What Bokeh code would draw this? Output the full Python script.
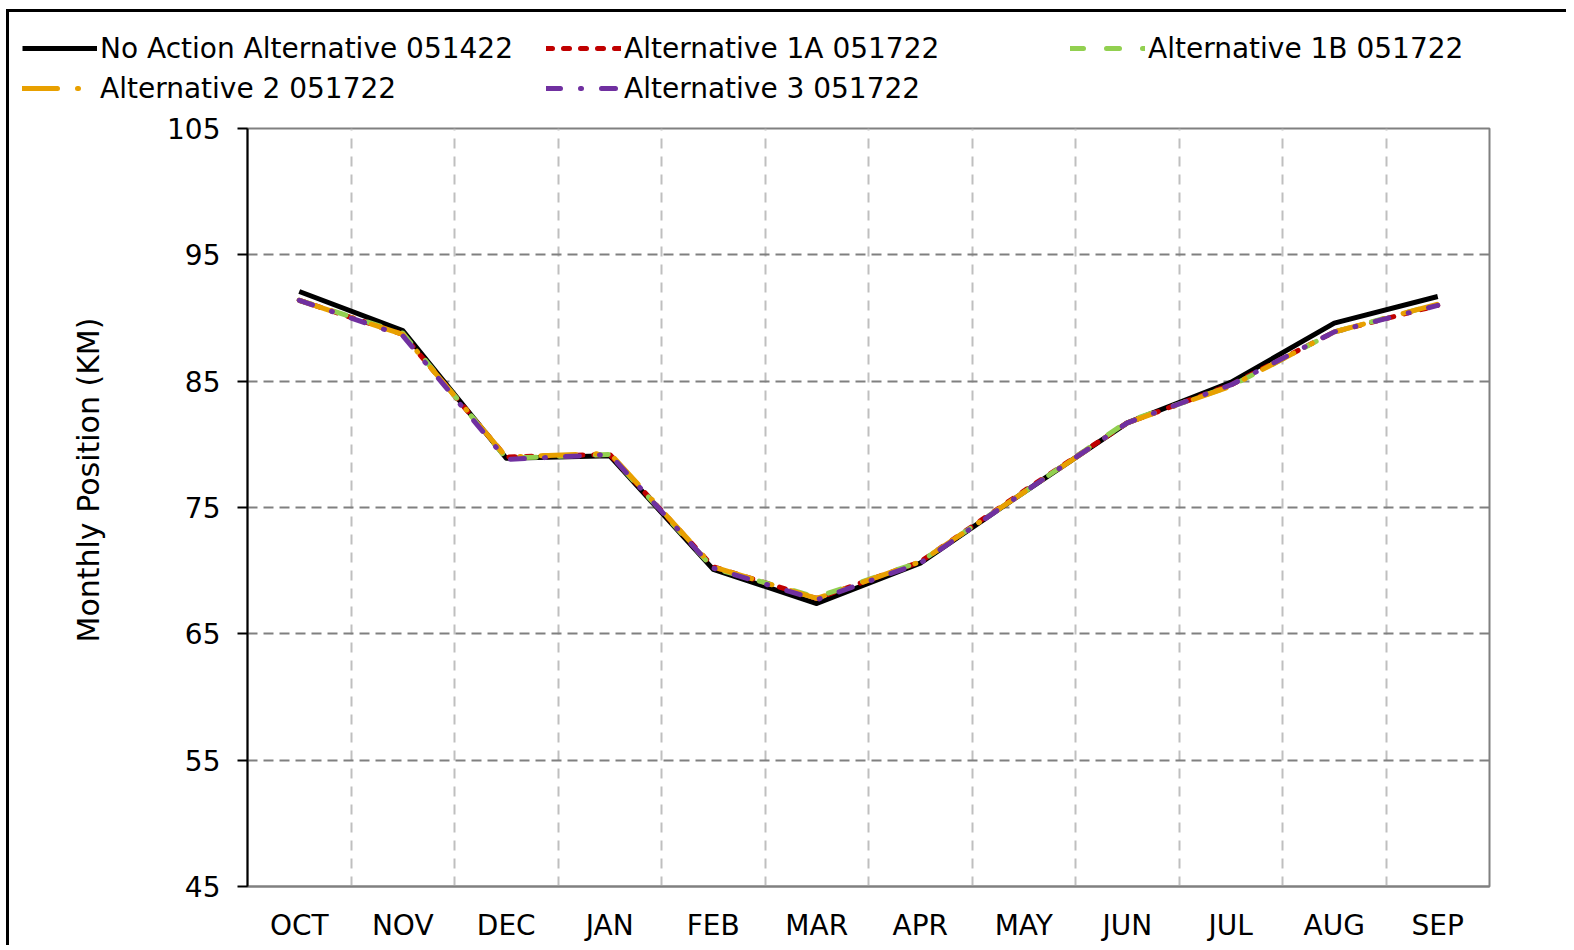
from bokeh.plotting import figure
from bokeh.models import FixedTicker, Legend, LegendItem, ColumnDataSource, Title
from bokeh.embed import file_html
from bokeh.resources import INLINE

months = ["OCT", "NOV", "DEC", "JAN", "FEB", "MAR", "APR", "MAY", "JUN", "JUL", "AUG", "SEP"]
no_action = [92.1, 89.0, 78.9, 79.1, 70.1, 67.4, 70.6, 76.2, 81.7, 84.9, 89.6, 91.7]
alt_1a = [91.4, 88.7, 79.0, 79.2, 70.3, 67.8, 70.7, 76.3, 81.7, 84.7, 88.9, 91.0]
alt_1b = [91.4, 88.8, 78.9, 79.2, 70.2, 67.9, 70.7, 76.2, 81.8, 84.6, 88.9, 91.1]
alt_2 = [91.4, 88.7, 79.0, 79.3, 70.3, 67.8, 70.7, 76.2, 81.7, 84.6, 88.9, 91.1]
alt_3 = [91.4, 88.6, 78.8, 79.2, 70.2, 67.7, 70.6, 76.2, 81.7, 84.7, 88.9, 91.0]
y_ticks = [45, 55, 65, 75, 85, 95, 105]

series = [
    ("No Action Alternative 051422", no_action, "#000000", "solid"),
    ("Alternative 1A 051722", alt_1a, "#C00000", "6 11"),
    ("Alternative 1B 051722", alt_1b, "#92D050", "13 23"),
    ("Alternative 2 051722", alt_2, "#E8A000", "35 20 1 20"),
    ("Alternative 3 051722", alt_3, "#7030A0", "14 20 1 20"),
]

FONT = "DejaVu Sans"
FS = "28px"
xs = [i + 0.5 for i in range(len(months))]

W = 1560


def style(dash):
    return dict(line_width=5,
                line_dash=dash,
                line_cap="round" if dash != "solid" else "butt",
                line_join="round")


# ---------- main chart ----------
p = figure(width=W, height=836, output_backend="svg", toolbar_location=None,
           x_range=(0, len(months)), y_range=(45, 105),
           min_border_left=238, min_border_top=19, min_border_right=80, min_border_bottom=59)
p.styles = {"border-left": "3px solid black"}
p.margin = (0, 0, 0, 6)
p.outline_line_color = "#808080"
p.outline_line_width = 2

p.xaxis.ticker = FixedTicker(ticks=xs)
p.xaxis.major_label_overrides = {x: m for x, m in zip(xs, months)}
p.xaxis.major_tick_line_color = None
p.xaxis.minor_tick_line_color = None
p.xaxis.axis_line_color = "#808080"
p.xaxis.axis_line_width = 2
p.xaxis.major_label_text_font = FONT
p.xaxis.major_label_text_font_size = FS
p.xaxis.major_label_text_color = "#000000"
p.xaxis.major_label_standoff = 16

p.yaxis.ticker = FixedTicker(ticks=y_ticks)
p.yaxis.axis_line_color = "#000000"
p.yaxis.axis_line_width = 2
p.yaxis.major_tick_in = 0
p.yaxis.major_tick_out = 10
p.yaxis.major_tick_line_width = 2
p.yaxis.minor_tick_line_color = None
p.yaxis.major_label_text_font = FONT
p.yaxis.major_label_text_font_size = FS
p.yaxis.major_label_text_color = "#000000"
p.yaxis.major_label_standoff = 17

ylabel = Title(text="Monthly Position (KM)", align="left", offset=244, standoff=117,
               text_font=FONT, text_font_size="30px", text_font_style="normal",
               text_color="#000000")
p.add_layout(ylabel, "left")

p.xgrid.ticker = FixedTicker(ticks=list(range(1, len(months))))
p.xgrid.grid_line_color = "#BFBFBF"
p.xgrid.grid_line_width = 2
p.xgrid.grid_line_dash = "10 8"
p.ygrid.ticker = FixedTicker(ticks=y_ticks[1:-1])
p.ygrid.grid_line_color = "#808080"
p.ygrid.grid_line_width = 2
p.ygrid.grid_line_dash = "10 6"

for name, vals, color, dash in series:
    src = ColumnDataSource(dict(x=xs, y=vals))
    p.line("x", "y", source=src, line_color=color, **style(dash))

# ---------- legend strip above the chart (separate root, same series off-range) ----------
lg_fig = figure(width=W, height=100, output_backend="svg", toolbar_location=None,
                x_range=(0, 1), y_range=(0, 1), x_axis_location=None, y_axis_location=None,
                min_border=0, min_border_left=0, min_border_right=0,
                min_border_top=0, min_border_bottom=0)
lg_fig.styles = {"border-left": "3px solid black", "border-top": "3px solid black"}
lg_fig.margin = (9, 0, 0, 6)
lg_fig.outline_line_color = None
lg_fig.xgrid.visible = False
lg_fig.ygrid.visible = False

items = []
for name, vals, color, dash in series:
    r = lg_fig.line(x=xs, y=vals, line_color=color, **style(dash))
    items.append(LegendItem(label=name, renderers=[r]))

legend = Legend(items=items, location=(13, 4), orientation="horizontal", ncols=3,
                glyph_width=75, glyph_height=40, label_height=40, label_width=446,
                label_standoff=3, padding=0, margin=0, spacing=0,
                border_line_color=None, background_fill_alpha=0,
                label_text_font=FONT, label_text_font_size=FS, label_text_color="#000000")
lg_fig.add_layout(legend, "center")

open("out.html", "w").write(file_html([lg_fig, p], INLINE))
